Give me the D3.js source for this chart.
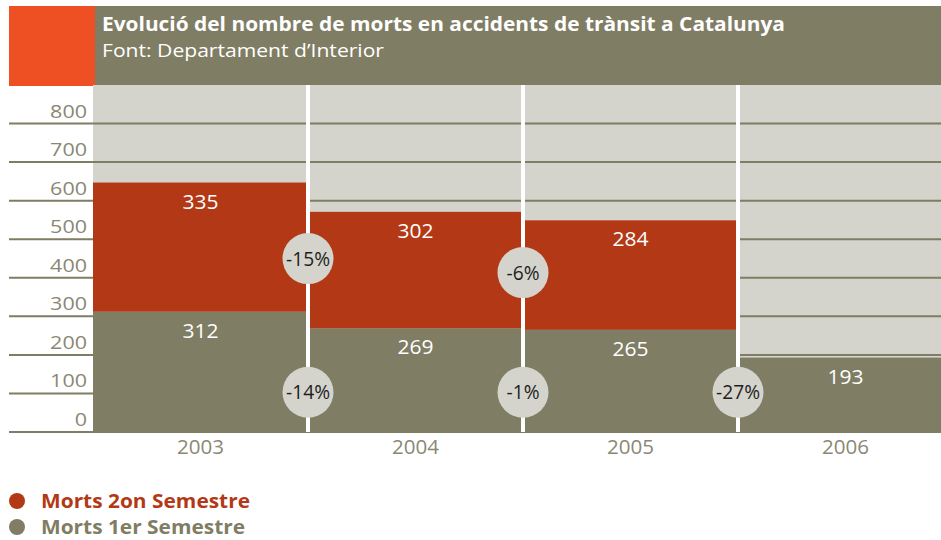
<!DOCTYPE html>
<html>
<head>
<meta charset="utf-8">
<script src="https://cdn.jsdelivr.net/npm/d3@7"></script>
<style>
  body { margin: 0; background: #fff; }
  text { font-family: "Open Sans", "Noto Sans", sans-serif; }
</style>
</head>
<body>
<div id="chart"></div>
<script>
const years = ["2003", "2004", "2005", "2006"];
const sem1 = [312, 269, 265, 193];          // Morts 1er Semestre
const sem2 = [335, 302, 284, 0];            // Morts 2on Semestre (2006 not available)
const changeSem2 = ["-15%", "-6%"];         // between consecutive years, 2nd semester
const changeSem1 = ["-14%", "-1%", "-27%"]; // between consecutive years, 1st semester
const yTicks = [0, 100, 200, 300, 400, 500, 600, 700, 800];

const W = 941, H = 540;
const olive = "#7f7d63", red = "#b33916", orange = "#ef5023",
      pale = "#d4d4cd", tickCol = "#8a8875";

const svg = d3.select("#chart").append("svg")
    .attr("width", W)
    .attr("height", H);

// header
svg.append("rect").attr("x", 9).attr("y", 6).attr("width", 86).attr("height", 80).attr("fill", orange);
svg.append("rect").attr("x", 95).attr("y", 6).attr("width", W - 95).attr("height", 80).attr("fill", olive);
svg.append("text")
    .attr("x", 102).attr("y", 31)
    .attr("fill", "#fff")
    .style("font-size", "20px").style("font-weight", "bold")
    .attr("textLength", 683).attr("lengthAdjust", "spacingAndGlyphs")
    .text("Evolució del nombre de morts en accidents de trànsit a Catalunya");
svg.append("text")
    .attr("x", 102).attr("y", 57)
    .attr("fill", "#fff")
    .style("font-size", "18px")
    .attr("textLength", 282).attr("lengthAdjust", "spacingAndGlyphs")
    .text("Font: Departament d’Interior");

const x = d3.scaleBand().domain(years).range([93, 93 + 4 * 215]).padding(0);
const y = d3.scaleLinear().domain([0, 900]).range([432, 85]);

// plot background
svg.append("rect")
    .attr("x", 93).attr("y", y(900))
    .attr("width", W - 93).attr("height", y(0) - y(900))
    .attr("fill", pale);

// gridlines + tick labels
svg.append("g").selectAll("line")
    .data(yTicks).join("line")
    .attr("x1", 9).attr("x2", W)
    .attr("y1", d => y(d)).attr("y2", d => y(d))
    .attr("stroke", olive).attr("stroke-width", 2);

svg.append("g").selectAll("text")
    .data(yTicks).join("text")
    .attr("x", 87).attr("y", d => y(d) - 6)
    .attr("text-anchor", "end")
    .attr("fill", tickCol)
    .style("font-size", "19px")
    .attr("textLength", d => String(d).length * 12.3)
    .attr("lengthAdjust", "spacingAndGlyphs")
    .text(d => d);

// stacked bars
const rows = years.map((yr, i) => ({ year: yr, s1: sem1[i], s2: sem2[i] }));

svg.append("g").selectAll("rect")
    .data(rows).join("rect")
    .attr("x", d => x(d.year)).attr("width", x.bandwidth())
    .attr("y", d => y(d.s1)).attr("height", d => y(0) - y(d.s1))
    .attr("fill", olive);

svg.append("g").selectAll("rect")
    .data(rows.filter(d => d.s2 > 0)).join("rect")
    .attr("x", d => x(d.year)).attr("width", x.bandwidth())
    .attr("y", d => y(d.s1 + d.s2)).attr("height", d => y(d.s1) - y(d.s1 + d.s2))
    .attr("fill", red);

// value labels
const valueLabel = (sel) => sel
    .attr("text-anchor", "middle")
    .attr("fill", "#fff")
    .style("font-size", "20px")
    .attr("textLength", 36)
    .attr("lengthAdjust", "spacingAndGlyphs");

svg.append("g").selectAll("text")
    .data(rows).join("text")
    .call(valueLabel)
    .attr("x", d => x(d.year) + x.bandwidth() / 2)
    .attr("y", d => y(d.s1) + 26)
    .text(d => d.s1);

svg.append("g").selectAll("text")
    .data(rows.filter(d => d.s2 > 0)).join("text")
    .call(valueLabel)
    .attr("x", d => x(d.year) + x.bandwidth() / 2)
    .attr("y", d => y(d.s1 + d.s2) + 26)
    .text(d => d.s2);

// white separators between years
svg.append("g").selectAll("line")
    .data(years.slice(1)).join("line")
    .attr("x1", d => x(d)).attr("x2", d => x(d))
    .attr("y1", y(900)).attr("y2", y(0))
    .attr("stroke", "#fff").attr("stroke-width", 4);

// change bubbles
const bubbles = [];
changeSem2.forEach((lab, i) => {
    const m1 = sem1[i] + sem2[i] / 2, m2 = sem1[i + 1] + sem2[i + 1] / 2;
    bubbles.push({ x: x(years[i + 1]), y: y((m1 + m2) / 2), label: lab });
});
changeSem1.forEach((lab, i) => {
    bubbles.push({ x: x(years[i + 1]), y: y(103), label: lab });
});

const bg = svg.append("g").selectAll("g")
    .data(bubbles).join("g")
    .attr("transform", d => `translate(${d.x},${d.y})`);
bg.append("circle").attr("r", 25.5).attr("fill", pale);
bg.append("text")
    .attr("text-anchor", "middle")
    .attr("dy", "0.35em")
    .attr("fill", "#1e1e1e")
    .style("font-size", "20px")
    .attr("textLength", d => d.label.length * 11)
    .attr("lengthAdjust", "spacingAndGlyphs")
    .text(d => d.label);

// x axis labels
svg.append("g").selectAll("text")
    .data(years).join("text")
    .attr("x", d => x(d) + x.bandwidth() / 2)
    .attr("y", 454)
    .attr("text-anchor", "middle")
    .attr("fill", tickCol)
    .style("font-size", "20px")
    .attr("textLength", 47)
    .attr("lengthAdjust", "spacingAndGlyphs")
    .text(d => d);

// legend
const legend = [
    { label: "Morts 2on Semestre", color: red },
    { label: "Morts 1er Semestre", color: olive }
];
const lg = svg.append("g").selectAll("g")
    .data(legend).join("g")
    .attr("transform", (d, i) => `translate(17,${501 + i * 26})`);
lg.append("circle").attr("r", 8).attr("fill", d => d.color);
lg.append("text")
    .attr("x", 24).attr("dy", "0.36em")
    .attr("fill", d => d.color)
    .style("font-size", "20px").style("font-weight", "bold")
    .attr("textLength", (d, i) => i === 0 ? 209 : 204)
    .attr("lengthAdjust", "spacingAndGlyphs")
    .text(d => d.label);
</script>
</body>
</html>
